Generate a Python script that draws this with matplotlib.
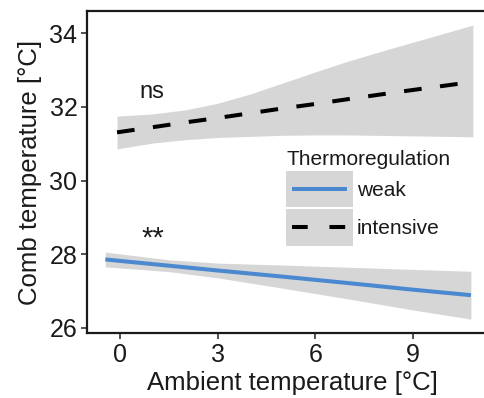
import numpy as np
import matplotlib
matplotlib.use('Agg')
import matplotlib.pyplot as plt
from matplotlib.patches import Rectangle
from matplotlib.lines import Line2D
from matplotlib.legend_handler import HandlerBase

plt.rcParams['font.family'] = ['Liberation Sans', 'DejaVu Sans']

# weak thermoregulation: fitted line + confidence band
weak_x = [-0.46, 1.5, 3.0, 4.92, 7.0, 9.0, 10.79]
weak_fit = [27.86, 27.69, 27.56, 27.40, 27.22, 27.04, 26.89]
weak_hi = [28.06, 27.85, 27.76, 27.71, 27.65, 27.59, 27.54]
weak_lo = [27.66, 27.53, 27.36, 27.09, 26.79, 26.49, 26.24]

# intensive thermoregulation
int_x = [-0.1, 1.0, 2.0, 3.0, 4.0, 5.0, 6.0, 7.0, 8.5, 10.85]
int_fit = [31.31, 31.45, 31.58, 31.70, 31.83, 31.96, 32.08, 32.21, 32.40, 32.68]
int_hi = [31.75, 31.81, 31.92, 32.10, 32.35, 32.65, 32.95, 33.24, 33.63, 34.22]
int_lo = [30.86, 31.02, 31.11, 31.17, 31.2, 31.23, 31.24, 31.24, 31.22, 31.19]

groups = ['weak', 'intensive']
annotations = [('ns', 0.97, 32.25, 17), ('**', 1.0, 28.21, 21)]
x_ticks = [0, 3, 6, 9]
y_ticks = [26, 28, 30, 32, 34]

band_col = '#d6d6d6'
blue = '#4a88d0'
ink = '#1a1a1a'


class KeyHandler(HandlerBase):
    # grey key box with a shorter line on top, like ggplot legend keys
    def create_artists(self, legend, orig_handle, xdescent, ydescent, width, height, fontsize, trans):
        box = Rectangle((-xdescent, -ydescent), width, height, facecolor=band_col,
                        edgecolor='none', transform=trans)
        pad = width * 0.09
        y = -ydescent + height / 2
        ln = Line2D([-xdescent + pad, -xdescent + width - pad], [y, y],
                    color=orig_handle.get_color(), lw=orig_handle.get_linewidth(),
                    linestyle=orig_handle.get_linestyle(), dash_capstyle='butt',
                    solid_capstyle='butt', transform=trans)
        if orig_handle.get_linestyle() != '-':
            ln.set_dashes((3.9, 5.4))
        return [box, ln]


fig = plt.figure(figsize=(4.84, 3.98), dpi=100)
ax = fig.add_axes([0.18, 0.163, 0.85, 0.809])

ax.fill_between(int_x, int_lo, int_hi, color=band_col, lw=0)
ax.fill_between(weak_x, weak_lo, weak_hi, color=band_col, lw=0)
l1, = ax.plot(weak_x, weak_fit, color=blue, lw=2.9, solid_capstyle='butt')
l2, = ax.plot(int_x, int_fit, color='black', lw=2.9, linestyle='--', dash_capstyle='butt')
l2.set_dashes((4.4, 4.6))

for txt, tx, ty, fs in annotations:
    ax.text(tx, ty, txt, ha='center', va='baseline', fontsize=fs, color=ink)

ax.set_xlim(-1.02, 11.64)
ax.set_ylim(25.86, 34.6)
ax.set_xticks(x_ticks)
ax.set_yticks(y_ticks)
ax.tick_params(labelsize=18, length=4, width=1.2, color='#333333', labelcolor=ink, pad=3)
for s in ['left', 'bottom', 'top']:
    ax.spines[s].set_linewidth(1.6)
    ax.spines[s].set_color(ink)
ax.spines['right'].set_visible(False)

ax.set_xlabel('Ambient temperature [°C]', fontsize=18.5, color=ink, labelpad=3)
ax.set_ylabel('Comb temperature [°C]', fontsize=18.5, color=ink, labelpad=5)

leg = ax.legend([l1, l2], groups, title='Thermoregulation', loc='upper left',
                bbox_to_anchor=(0.484, 0.569), frameon=False, fontsize=15,
                title_fontsize=15, handlelength=3.2, handleheight=2.3,
                handletextpad=0.2, labelspacing=0.1, borderpad=0, borderaxespad=0,
                handler_map={Line2D: KeyHandler()})
leg._legend_box.align = 'left'
for t in leg.get_texts():
    t.set_color(ink)
leg.get_title().set_color(ink)

fig.savefig('out.png', dpi=100)
